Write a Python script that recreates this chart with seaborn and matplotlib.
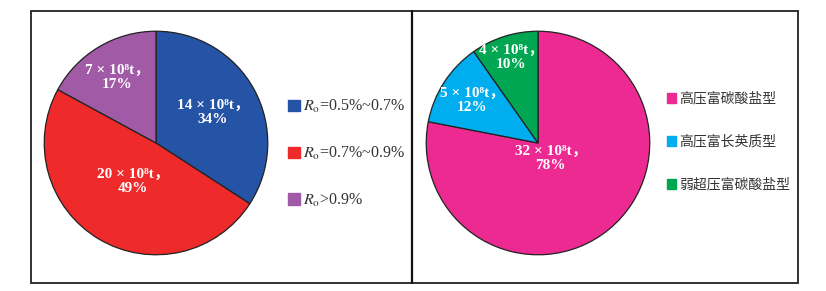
import numpy as np
import matplotlib.pyplot as plt
import matplotlib.patches as mpatches
import seaborn as sns

sns.set_theme(style='white')
plt.rcParams['font.family'] = ['Liberation Serif', 'Noto Sans CJK SC', 'DejaVu Serif']
plt.rcParams['mathtext.fontset'] = 'stix'

# left pie: by maturity (10^8 t)
ro_labels = ['$R_\\mathrm{o}$=0.5%~0.7%', '$R_\\mathrm{o}$=0.7%~0.9%', '$R_\\mathrm{o}$>0.9%']
ro_values = [14, 20, 7]
ro_pct = [34, 49, 17]
ro_colors = sns.color_palette(['#2553A5', '#EE2A2A', '#A05AA6'])

# right pie: by type (10^8 t)
type_labels = ['高压富碳酸盐型', '高压富长英质型', '弱超压富碳酸盐型']
type_values = [32, 5, 4]
type_pct = [78, 12, 10]
type_colors = sns.color_palette(['#EC2A91', '#00AEEF', '#00A651'])

fig = plt.figure(figsize=(8.26, 2.91), dpi=100)

# outer frame with divider
frame = fig.add_axes([0, 0, 1, 1], facecolor='none')
frame.set_xlim(0, 826)
frame.set_ylim(291, 0)
frame.axis('off')
frame.add_patch(mpatches.Rectangle((31, 11), 767, 272, fill=False, ec='#222222', lw=1.3))
frame.plot([412, 412], [11, 283], color='#111111', lw=1.6)


def draw_pie(ax, values, pct, colors, label_r):
    wedges, _ = ax.pie(values, colors=colors, startangle=90, counterclock=False,
                       radius=1, wedgeprops=dict(edgecolor='#222222', linewidth=0.9))
    for w, v, p, r in zip(wedges, values, pct, label_r):
        ang = np.deg2rad((w.theta1 + w.theta2) / 2)
        ax.text(r * np.cos(ang), r * np.sin(ang), f'{v} × 10⁸t，\n{p}%',
                ha='center', va='center', color='white', fontsize=11,
                fontweight='bold', linespacing=1.1,
                family=['Liberation Serif', 'Noto Sans CJK SC', 'DejaVu Serif'])
    ax.set_xlim(-1.02, 1.02)
    ax.set_ylim(-1.02, 1.02)
    ax.set_aspect('equal')
    ax.axis('off')
    return wedges


ax1 = fig.add_axes([42 / 826, 34 / 291, 228 / 826, 228 / 291])
w1 = draw_pie(ax1, ro_values, ro_pct, ro_colors, [0.58, 0.4, 0.68])
ax2 = fig.add_axes([424 / 826, 34 / 291, 228 / 826, 228 / 291])
w2 = draw_pie(ax2, type_values, type_pct, type_colors, [0.18, 0.7, 0.8])

h1 = [mpatches.Patch(color=c) for c in ro_colors]
fig.legend(h1, ro_labels, loc='upper left', bbox_to_anchor=(274 / 826, 1 - 84 / 291),
           frameon=False, handlelength=0.7, handleheight=0.7,
           handletextpad=0.2, labelspacing=1.85, labelcolor='#333333',
           prop={'family': ['Liberation Serif', 'DejaVu Serif'], 'size': 11.5})

h2 = [mpatches.Patch(color=c) for c in type_colors]
fig.legend(h2, type_labels, loc='upper left', bbox_to_anchor=(654 / 826, 1 - 79 / 291),
           frameon=False, handlelength=0.7, handleheight=0.7,
           handletextpad=0.2, labelspacing=2.1, labelcolor='#333333',
           prop={'family': ['Noto Sans CJK SC', 'DejaVu Sans'], 'size': 10})

fig.savefig('out.png', dpi=100)
